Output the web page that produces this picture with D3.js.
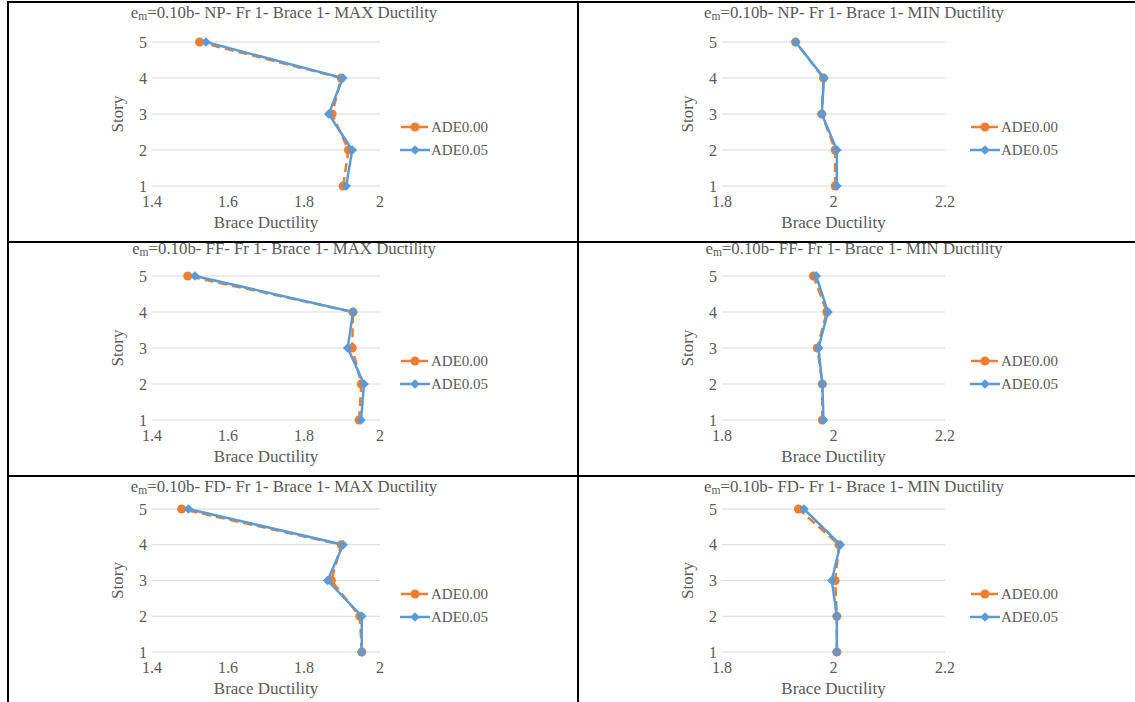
<!doctype html>
<html lang="en">
<head>
<meta charset="utf-8">
<script src="https://d3js.org/d3.v7.min.js"></script>
<title>Brace Ductility</title>
<style>
  body { margin: 0; background: #fff; }
  svg text { font-family: "Liberation Serif", "Times New Roman", serif; fill: #595959; }
</style>
</head>
<body>
<svg id="chart"></svg>
<script>
// data (story 1..5)
const stories = [1, 2, 3, 4, 5];
const seriesNames = ["ADE0.00", "ADE0.05"];
const maxTicks = [1.4, 1.6, 1.8, 2];
const minTicks = [1.8, 2, 2.2];
const storyTicks = [1, 2, 3, 4, 5];

const npMax000 = [1.903, 1.917, 1.874, 1.898, 1.525];
const npMax005 = [1.911, 1.927, 1.865, 1.902, 1.542];
const npMin000 = [2.003, 2.003, 1.979, 1.982, 1.932];
const npMin005 = [2.006, 2.006, 1.979, 1.983, 1.932];
const ffMax000 = [1.945, 1.951, 1.927, 1.929, 1.494];
const ffMax005 = [1.950, 1.958, 1.915, 1.929, 1.513];
const ffMin000 = [1.980, 1.980, 1.971, 1.988, 1.964];
const ffMin005 = [1.982, 1.980, 1.973, 1.990, 1.969];
const fdMax000 = [1.952, 1.947, 1.872, 1.898, 1.478];
const fdMax005 = [1.952, 1.952, 1.862, 1.903, 1.496];
const fdMin000 = [2.006, 2.006, 2.003, 2.010, 1.937];
const fdMin005 = [2.006, 2.006, 1.997, 2.012, 1.947];

const orange = "#ED7D31", blue = "#5B9BD5";

const panels = [
  { row: 0, col: 0, kase: "NP", kind: "MAX", s0: npMax000, s1: npMax005 },
  { row: 0, col: 1, kase: "NP", kind: "MIN", s0: npMin000, s1: npMin005 },
  { row: 1, col: 0, kase: "FF", kind: "MAX", s0: ffMax000, s1: ffMax005 },
  { row: 1, col: 1, kase: "FF", kind: "MIN", s0: ffMin000, s1: ffMin005 },
  { row: 2, col: 0, kase: "FD", kind: "MAX", s0: fdMax000, s1: fdMax005 },
  { row: 2, col: 1, kase: "FD", kind: "MIN", s0: fdMin000, s1: fdMin005 }
];

// layout
const W = 1135, H = 702;
const cellX = [8, 578];
const titleY = [18, 254, 492];
const topY = [42, 276, 509];   // story 5
const botY = [186, 420, 652];  // story 1
const plotRight = [372, 367];

const svg = d3.select("#chart").attr("width", W).attr("height", H);

// table borders
const borders = svg.append("g").attr("stroke", "#000").attr("stroke-width", 2);
borders.append("line").attr("x1", 7).attr("x2", W).attr("y1", 2).attr("y2", 2);
borders.append("line").attr("x1", 7).attr("x2", W).attr("y1", 242).attr("y2", 242);
borders.append("line").attr("x1", 7).attr("x2", W).attr("y1", 476).attr("y2", 476);
borders.append("line").attr("x1", 8).attr("x2", 8).attr("y1", 1).attr("y2", H);
borders.append("line").attr("x1", 578).attr("x2", 578).attr("y1", 1).attr("y2", H);

const diamond = d3.symbol().type(d3.symbolDiamond2).size(60);

panels.forEach(p => {
  const x0 = cellX[p.col];
  const g = svg.append("g").attr("transform", `translate(${x0},0)`);
  const ticks = p.kind === "MAX" ? maxTicks : minTicks;

  const x = d3.scaleLinear().domain(d3.extent(ticks)).range([144, plotRight[p.col]]);
  const y = d3.scaleLinear().domain([1, 5]).range([botY[p.row], topY[p.row]]);

  // gridlines
  g.append("g").selectAll("line").data(storyTicks).join("line")
    .attr("x1", x.range()[0]).attr("x2", x.range()[1])
    .attr("y1", d => y(d)).attr("y2", d => y(d))
    .attr("stroke", "#d9d9d9").attr("stroke-width", 1);

  // y tick labels
  g.append("g").selectAll("text").data(storyTicks).join("text")
    .attr("x", 139).attr("y", d => y(d)).attr("dy", "0.35em")
    .attr("text-anchor", "end").attr("font-size", 16)
    .text(d => d);

  // x tick labels
  g.append("g").selectAll("text").data(ticks).join("text")
    .attr("x", d => x(d)).attr("y", botY[p.row] + 21)
    .attr("text-anchor", "middle").attr("font-size", 16)
    .text(d3.format("~g"));

  // axis titles
  g.append("text")
    .attr("x", (x.range()[0] + x.range()[1]) / 2).attr("y", botY[p.row] + 42)
    .attr("text-anchor", "middle").attr("font-size", 17)
    .text("Brace Ductility");
  g.append("text")
    .attr("transform", `translate(115,${(topY[p.row] + botY[p.row]) / 2}) rotate(-90)`)
    .attr("text-anchor", "middle").attr("font-size", 17)
    .text("Story");

  // title
  const t = g.append("text")
    .attr("x", 276).attr("y", titleY[p.row])
    .attr("text-anchor", "middle").attr("font-size", 16.8);
  t.append("tspan").text("e");
  t.append("tspan").attr("font-size", 11.5).attr("dy", 2).text("m");
  t.append("tspan").attr("dy", -2).text(`=0.10b- ${p.kase}- Fr 1- Brace 1- ${p.kind} Ductility`);

  const line = d3.line().x(d => x(d[1])).y(d => y(d[0]));
  const d0 = stories.map((s, i) => [s, p.s0[i]]);
  const d1 = stories.map((s, i) => [s, p.s1[i]]);

  g.append("path").datum(d0).attr("d", line)
    .attr("fill", "none").attr("stroke", orange).attr("stroke-width", 2.5)
    .attr("stroke-dasharray", "9,5");
  g.append("g").selectAll("circle").data(d0).join("circle")
    .attr("cx", d => x(d[1])).attr("cy", d => y(d[0])).attr("r", 4.5)
    .attr("fill", orange);

  g.append("path").datum(d1).attr("d", line)
    .attr("fill", "none").attr("stroke", blue).attr("stroke-width", 2.5);
  g.append("g").selectAll("path").data(d1).join("path")
    .attr("d", diamond)
    .attr("transform", d => `translate(${x(d[1])},${y(d[0])})`)
    .attr("fill", blue);

  // legend
  const ly = [topY[p.row] + 85, topY[p.row] + 108];
  const lg = g.append("g");
  lg.append("line").attr("x1", 393).attr("x2", 420).attr("y1", ly[0]).attr("y2", ly[0])
    .attr("stroke", orange).attr("stroke-width", 2.5);
  lg.append("circle").attr("cx", 407).attr("cy", ly[0]).attr("r", 4.5).attr("fill", orange);
  lg.append("line").attr("x1", 392).attr("x2", 422).attr("y1", ly[1]).attr("y2", ly[1])
    .attr("stroke", blue).attr("stroke-width", 2.5);
  lg.append("path").attr("d", diamond).attr("transform", `translate(407,${ly[1]})`).attr("fill", blue);
  lg.selectAll("text").data(seriesNames).join("text")
    .attr("x", 423).attr("y", (d, i) => ly[i]).attr("dy", "0.35em")
    .attr("font-size", 15)
    .text(d => d);
});
</script>
</body>
</html>
